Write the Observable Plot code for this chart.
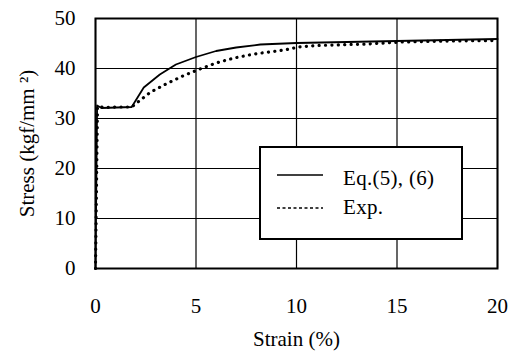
<!DOCTYPE html>
<html><head><meta charset="utf-8">
<script src="https://cdn.jsdelivr.net/npm/d3@7"></script>
<script src="https://cdn.jsdelivr.net/npm/@observablehq/plot@0.6"></script>
<style>body{margin:0;background:#fff}svg{font-family:"Liberation Serif","Times New Roman",serif}</style>
</head><body><div id="chart"></div>
<script>
const xTicks = [0, 5, 10, 15, 20];
const yTicks = [0, 10, 20, 30, 40, 50];
const eqStrain = [0, 0.08, 0.3, 1.8, 2.4, 3.2, 4.0, 5.0, 6.0, 7.0, 8.2, 10, 12.5, 15, 17.5, 20];
const eqStress = [0, 32.6, 32.1, 32.3, 36.2, 38.8, 40.8, 42.3, 43.5, 44.2, 44.8, 45.1, 45.3, 45.5, 45.7, 45.9];
const expStrain = [0, 0.1, 0.5, 1.0, 1.8, 2.3, 2.75, 3.6, 4.4, 5.2, 6.0, 6.9, 7.9, 9.4, 10.1, 11, 13.5, 15.2, 17.7, 20];
const expStress = [0, 32.4, 32.2, 32.3, 32.3, 33.9, 35.3, 37.1, 38.6, 39.9, 41.1, 42.1, 42.9, 43.7, 44.3, 44.6, 44.9, 45.3, 45.5, 45.6];
const seriesNames = ["Eq.(5), (6)", "Exp."];
const xLabel = "Strain (%)";
const yLabel = "Stress (kgf/mm ²)";

const eq = eqStrain.map((x, i) => ({x, y: eqStress[i]}));
const ex = expStrain.map((x, i) => ({x, y: expStress[i]}));

const chart = Plot.plot({
  width: 517, height: 363,
  marginLeft: 95, marginRight: 20, marginTop: 18, marginBottom: 95,
  style: {fontFamily: "Liberation Serif", fontSize: "21px", color: "#000", background: "#fff"},
  x: {domain: [0, 20], label: null},
  y: {domain: [0, 50], label: null},
  marks: [
    Plot.gridX(xTicks, {stroke: "#000", strokeOpacity: 1, strokeWidth: 1.2}),
    Plot.gridY(yTicks, {stroke: "#000", strokeOpacity: 1, strokeWidth: 1.2}),
    Plot.axisX(xTicks, {tickSize: 0, tickPadding: 30, fontSize: 21, label: null}),
    Plot.axisY(yTicks, {tickSize: 0, tickPadding: 20, fontSize: 21, label: null}),
    Plot.line(ex, {x: "x", y: "y", stroke: "#000", strokeWidth: 3.2, strokeDasharray: "0.1,6.3", strokeLinecap: "round"}),
    Plot.line(eq, {x: "x", y: "y", stroke: "#000", strokeWidth: 1.8}),
    Plot.frame({stroke: "#000", strokeWidth: 2}),
    Plot.text([xLabel], {frameAnchor: "bottom", dy: 77, fontSize: 21, letterSpacing: 1}),
    Plot.text([yLabel], {frameAnchor: "left", textAnchor: "middle", dx: -68, rotate: -90, fontSize: 21, letterSpacing: 1})
  ]
});
document.getElementById("chart").appendChild(chart);

// legend box
const svg = d3.select(chart);
const g = svg.append("g").attr("font-family", "Liberation Serif").attr("font-size", 21)
  .attr("text-anchor", "start");
g.append("rect").attr("x", 260).attr("y", 147).attr("width", 202).attr("height", 92)
  .attr("fill", "#fff").attr("stroke", "#000").attr("stroke-width", 2);
const rows = [{y: 175, base: 185, dash: null}, {y: 208, base: 214, dash: "3,2.5"}];
rows.forEach((r, i) => {
  g.append("line").attr("x1", 277).attr("x2", 323).attr("y1", r.y).attr("y2", r.y)
    .attr("stroke", "#000").attr("stroke-width", 1.5).attr("stroke-dasharray", r.dash);
  g.append("text").attr("x", 343).attr("y", r.base).attr("letter-spacing", 0.3).text(seriesNames[i]);
});
</script></body></html>
